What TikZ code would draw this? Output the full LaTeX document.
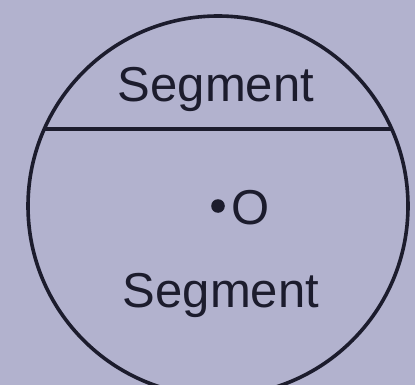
\documentclass[tikz,border=0pt]{standalone}
\usepackage{fontspec}
\setmainfont{Liberation Sans}
\definecolor{bg}{RGB}{178,178,206}
\definecolor{ink}{RGB}{28,28,45}
\begin{document}
\begin{tikzpicture}[x=1pt,y=-1pt,
  lbl/.style={font=\fontsize{49}{52}\selectfont, text=ink, inner sep=0pt},
  ln/.style={draw=ink, line width=3.6pt}]
\useasboundingbox (0,0) rectangle (415,385);
\fill[bg] (0,0) rectangle (415,385);
\clip (0,0) rectangle (415,385);
\coordinate (c) at (218,206);
\coordinate (a) at (44.3,129);
\coordinate (b) at (391.7,129);
\draw[ln] (c) circle (190);
\draw[ln] (a) -- (b);
\fill[ink] (c) circle (6.8);
\node[lbl, anchor=base] (s1) at (216,102) {Segment};
\node[lbl, anchor=base] (s2) at (221,307) {Segment};
\node[lbl, anchor=base west] (o) at (231,224) {O};
\end{tikzpicture}
\end{document}
